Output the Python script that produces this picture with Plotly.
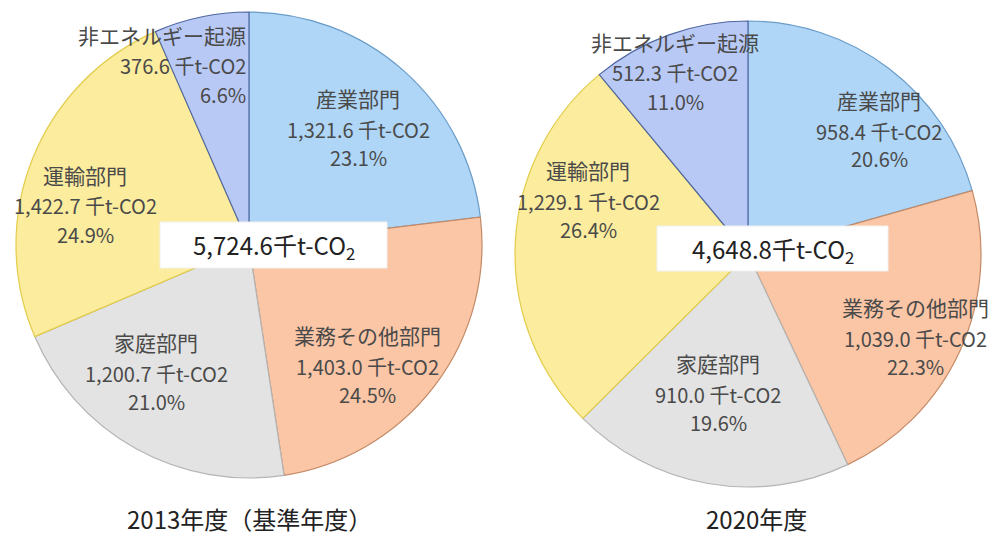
import plotly.graph_objects as go

W, H = 995, 536

sectors = ["産業部門", "業務その他部門", "家庭部門", "運輸部門", "非エネルギー起源"]
values_2013 = [1321.6, 1403.0, 1200.7, 1422.7, 376.6]
values_2020 = [958.4, 1039.0, 910.0, 1229.1, 512.3]
titles = ["2013年度（基準年度）", "2020年度"]
unit = "千t-CO2"

fill_colors = ["#afd6f7", "#fbc6a6", "#e3e3e3", "#fcec9e", "#b9c9f6"]
line_colors = ["#6a9cc8", "#c48a66", "#b4b4b4", "#e2cc4a", "#4f66a0"]


def px(x):
    return x / W


def py(y):
    return 1 - y / H


fig = go.Figure()

# pie domains (pixel boxes): left center (249,245), right center (748,254), r=233
domains = [
    dict(x=[px(16), px(482)], y=[py(478), py(12)]),
    dict(x=[px(515), px(981)], y=[py(487), py(21)]),
]

for vals, dom in zip([values_2013, values_2020], domains):
    fig.add_trace(go.Pie(
        labels=sectors, values=vals, sort=False, direction="clockwise",
        rotation=0, domain=dom, textinfo="none", hoverinfo="label+value+percent",
        marker=dict(colors=fill_colors, line=dict(color=line_colors, width=1.2)),
        showlegend=False,
    ))

# label anchor positions (pixels): (x, y of first line, xanchor)
label_pos = [
    {  # 2013
        "産業部門": (358, 98, "center"),
        "業務その他部門": (367, 335, "center"),
        "家庭部門": (156, 342, "center"),
        "運輸部門": (85, 175, "center"),
        "非エネルギー起源": (248, 35, "right"),
    },
    {  # 2020
        "産業部門": (879, 100, "center"),
        "業務その他部門": (915, 307, "center"),
        "家庭部門": (718, 363, "center"),
        "運輸部門": (588, 170, "center"),
        "非エネルギー起源": (675, 42, "center"),
    },
]
offsets = [0, 31, 59]

annotations = []
for i, vals in enumerate([values_2013, values_2020]):
    total = sum(vals)
    for s, v in zip(sectors, vals):
        x, y, anchor = label_pos[i][s]
        pct = v / total * 100
        lines = [s, f"{v:,.1f} {unit}", f"{pct:.1f}%"]
        sizes = [21, 20, 20]
        for k, (t, fs) in enumerate(zip(lines, sizes)):
            annotations.append(dict(
                x=px(x), y=py(y + offsets[k]), xref="paper", yref="paper",
                text=t, showarrow=False, xanchor=anchor, yanchor="middle",
                font=dict(family="Noto Sans CJK JP", size=fs, color="#4a4a4a"),
            ))

# center total boxes
boxes = [(160, 222, 387, 268), (657, 226, 888, 271)]
shapes = []
for i, vals in enumerate([values_2013, values_2020]):
    x0, y0, x1, y1 = boxes[i]
    shapes.append(dict(type="rect", xref="paper", yref="paper",
                       x0=px(x0), x1=px(x1), y0=py(y1), y1=py(y0),
                       fillcolor="white", line=dict(color="#f0f0f0", width=1), layer="above"))
    total = sum(vals)
    annotations.append(dict(
        x=px((x0 + x1) / 2), y=py((y0 + y1) / 2 + 1), xref="paper", yref="paper",
        text=f"{total:,.1f}千t-CO<sub>2</sub>", showarrow=False,
        xanchor="center", yanchor="middle",
        font=dict(family="Noto Sans CJK JP", size=24, color="#222222"),
    ))

# titles
title_pos = [(250, 518), (756, 518)]
for t, (x, y) in zip(titles, title_pos):
    annotations.append(dict(
        x=px(x), y=py(y), xref="paper", yref="paper", text=t, showarrow=False,
        xanchor="center", yanchor="middle", borderpad=0,
        font=dict(family="Noto Sans CJK JP", size=24, color="#222222"),
    ))

fig.update_layout(
    width=W, height=H, margin=dict(l=0, r=0, t=0, b=0),
    paper_bgcolor="white", plot_bgcolor="white",
    shapes=shapes, annotations=annotations,
)

fig.write_html("out.html", config={"displayModeBar": False},
               post_script="document.body.style.margin='0';")
